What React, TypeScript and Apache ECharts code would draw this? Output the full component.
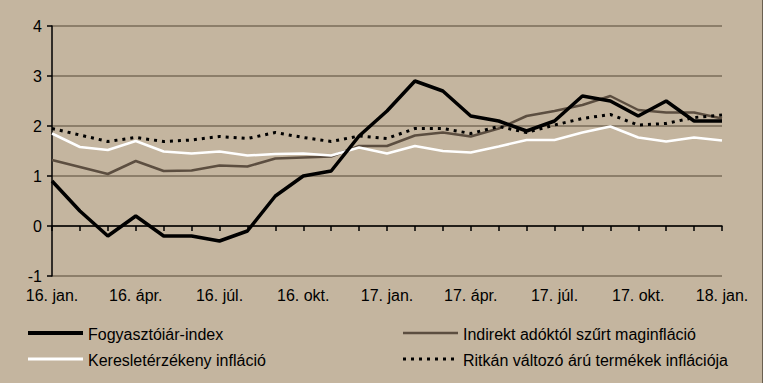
import React, { useEffect, useRef } from "react";
import * as echarts from "echarts";

const months = [
  "16. jan.", "16. febr.", "16. márc.", "16. ápr.", "16. máj.", "16. jún.", "16. júl.", "16. aug.", "16. szept.",
  "16. okt.", "16. nov.", "16. dec.", "17. jan.", "17. febr.", "17. márc.", "17. ápr.", "17. máj.", "17. jún.",
  "17. júl.", "17. aug.", "17. szept.", "17. okt.", "17. nov.", "17. dec.", "18. jan.",
];

const cpi = [0.9, 0.3, -0.2, 0.2, -0.2, -0.2, -0.3, -0.1, 0.6, 1.0, 1.1, 1.8, 2.3, 2.9, 2.7, 2.2, 2.1, 1.9, 2.1, 2.6, 2.5, 2.2, 2.5, 2.1, 2.1];
const coreExTax = [1.32, 1.18, 1.04, 1.3, 1.1, 1.11, 1.21, 1.19, 1.35, 1.37, 1.39, 1.6, 1.6, 1.81, 1.87, 1.79, 1.95, 2.2, 2.3, 2.42, 2.6, 2.32, 2.27, 2.27, 2.15];
const demandSensitive = [1.85, 1.58, 1.52, 1.7, 1.49, 1.45, 1.49, 1.41, 1.44, 1.45, 1.41, 1.57, 1.45, 1.6, 1.5, 1.47, 1.59, 1.72, 1.72, 1.87, 1.99, 1.77, 1.69, 1.77, 1.71];
const stickyPrice = [1.95, 1.82, 1.69, 1.77, 1.69, 1.72, 1.79, 1.75, 1.87, 1.77, 1.69, 1.8, 1.75, 1.95, 1.95, 1.85, 1.99, 1.87, 2.02, 2.15, 2.23, 2.02, 2.05, 2.17, 2.22];

const seriesNames = [
  "Fogyasztóiár-index",
  "Indirekt adóktól szűrt maginfláció",
  "Keresletérzékeny infláció",
  "Ritkán változó árú termékek inflációja",
];

const FONT = "'Liberation Sans', Arial, sans-serif";
const BG = "#C4B59F";
const GRID = "#8C7E6A";
const GRAYLINE = "#5C4E40";

export default function App() {
  const ref = useRef<HTMLDivElement>(null);
  useEffect(() => {
    if (!ref.current) return;
    const chart = echarts.init(ref.current, null, { renderer: "svg" });
    const legendText = (x: number, y: number, t: string) => ({
      type: "text",
      x,
      y,
      style: { text: t, fill: "#000", font: `16px ${FONT}`, verticalAlign: "middle", align: "left" },
    });
    const legendLine = (x: number, y: number, stroke: string, w: number, dash?: number[]) => ({
      type: "line",
      shape: { x1: x, y1: y, x2: x + 55, y2: y },
      style: { stroke, lineWidth: w, lineDash: dash },
    });
    chart.setOption({
      animation: false,
      backgroundColor: BG,
      textStyle: { fontFamily: FONT },
      grid: { left: 52, right: 41, top: 26, bottom: 107, containLabel: false },
      xAxis: [
        {
          type: "category",
          data: months,
          boundaryGap: false,
          position: "bottom",
          axisLine: { show: false, onZero: false },
          axisTick: { show: false },
          splitLine: { show: false },
          axisLabel: {
            interval: 2,
            color: "#000",
            fontSize: 16,
            fontFamily: FONT,
            margin: 11,
            formatter: (v: string) => v,
          },
        },
        {
          type: "category",
          data: months,
          boundaryGap: false,
          position: "top",
          axisLine: { show: true, onZero: true, lineStyle: { color: "#000", width: 1.5 } },
          axisTick: { show: true, inside: true, length: 5, interval: 0, lineStyle: { color: "#000", width: 1.5 } },
          axisLabel: { show: false },
          splitLine: { show: false },
        },
      ],
      yAxis: {
        type: "value",
        min: -1,
        max: 4,
        interval: 1,
        axisLine: { show: true, lineStyle: { color: "#000", width: 1.5 } },
        axisTick: { show: true, length: 5, lineStyle: { color: "#000", width: 1.5 } },
        axisLabel: { color: "#000", fontSize: 16, fontFamily: FONT, margin: 10 },
        splitLine: { show: true, lineStyle: { color: GRID, width: 2 } },
      },
      series: [
        {
          name: seriesNames[1],
          type: "line",
          data: coreExTax,
          symbol: "none",
          lineStyle: { color: GRAYLINE, width: 2.5 },
          z: 3,
        },
        {
          name: seriesNames[2],
          type: "line",
          data: demandSensitive,
          symbol: "none",
          lineStyle: { color: "#FFFFFF", width: 2.5 },
          z: 3,
        },
        {
          name: seriesNames[0],
          type: "line",
          data: cpi,
          symbol: "none",
          lineStyle: { color: "#000000", width: 3.5 },
          z: 4,
        },
        {
          name: seriesNames[3],
          type: "line",
          data: stickyPrice,
          symbol: "none",
          lineStyle: { color: "#000000", width: 3, type: [3, 5] },
          z: 5,
        },
      ],
      graphic: [
        legendLine(28, 333, "#000", 4),
        legendText(88, 334, seriesNames[0]),
        legendLine(403, 333, GRAYLINE, 2.5),
        legendText(463, 334, seriesNames[1]),
        legendLine(28, 359, "#FFFFFF", 3),
        legendText(88, 360, seriesNames[2]),
        legendLine(403, 359, "#000", 3, [3, 5]),
        legendText(463, 360, seriesNames[3]),
        {
          type: "line",
          shape: { x1: 762.5, y1: 0, x2: 762.5, y2: 383 },
          style: { stroke: "#6a6050", lineWidth: 1 },
        },
      ],
    });
    return () => chart.dispose();
  }, []);
  return (
    <div
      ref={ref}
      style={{ position: "fixed", left: 0, top: 0, width: 763, height: 383 }}
    />
  );
}
